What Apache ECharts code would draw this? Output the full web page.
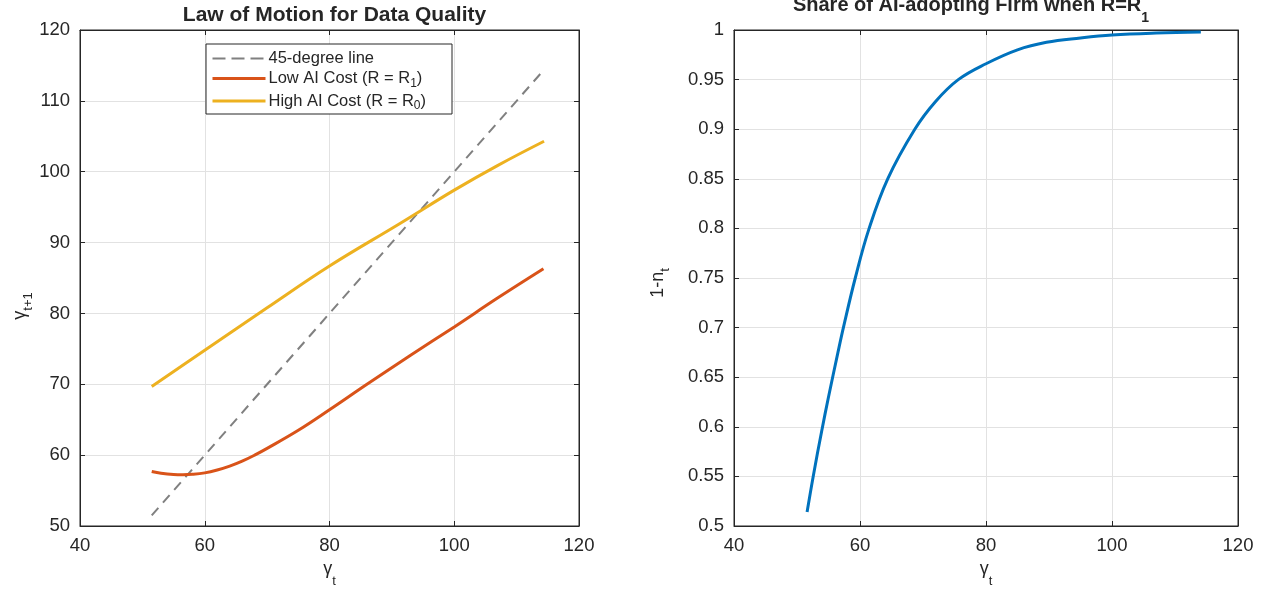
<!DOCTYPE html>
<html><head><meta charset="utf-8">
<script src="https://cdn.jsdelivr.net/npm/echarts@6/dist/echarts.min.js"></script>
<style>html,body{margin:0;padding:0;background:#fff}#c{width:1266px;height:592px}</style>
</head><body><div id="c"></div>
<script>
// ---- data ----
const diagX = [51.5, 114.5];
const diagY = [51.5, 114.5];
const lowX  = [51.5, 53, 55, 56.5, 58, 60, 62, 64, 66, 68, 70, 75, 80, 86, 93, 100, 107, 114.3];
const lowY  = [57.7, 57.45, 57.28, 57.25, 57.3, 57.5, 57.9, 58.45, 59.15, 60.0, 60.95, 63.5, 66.4, 70.0, 74.1, 78.1, 82.2, 86.3];
const highX = [51.5, 60, 70, 80, 91.3, 100, 107, 114.4];
const highY = [69.7, 74.8, 80.8, 86.7, 92.7, 97.4, 100.9, 104.3];
const shareX = [51.6, 52.6, 53.9, 55.0, 56.5, 57.4, 59.25, 61.4, 64.4, 68.7, 72, 75.6, 80, 85, 89.6, 95, 100, 107, 114.1];
const shareY = [0.514, 0.551, 0.595, 0.630, 0.675, 0.701, 0.750, 0.799, 0.85, 0.90, 0.928, 0.95, 0.966, 0.98, 0.9876, 0.992, 0.995, 0.997, 0.998];
const leftXTicks = {min: 40, max: 120, interval: 20};
const leftYTicks = {min: 50, max: 120, interval: 10};
const rightYTicks = {min: 0.5, max: 1, interval: 0.05};
const names = ['45-degree line', 'Low AI Cost (R = R1)', 'High AI Cost (R = R0)'];

const pairs = (xs, ys) => xs.map((x, i) => [x, ys[i]]);
const FONT = '"Liberation Sans", Arial, Helvetica, sans-serif';
const AX = '#262626';
const GRIDC = '#e2e2e2';
const C_DIAG = '#808080', C_LOW = '#D95319', C_HIGH = '#EDB120', C_SHARE = '#0072BD';

function axisBase(extra, subPad) {
  return Object.assign({
    type: 'value',
    axisLine: {show: true, onZero: false, lineStyle: {color: AX, width: 1}},
    axisTick: {show: true, inside: true, length: 5, lineStyle: {color: AX}},
    axisLabel: {show: true, color: AX, fontSize: 18.5, fontFamily: FONT, margin: 10},
    splitLine: {show: true, lineStyle: {color: GRIDC, width: 1}},
    nameLocation: 'middle',
    nameTextStyle: {color: AX, fontFamily: FONT, fontSize: 18,
      rich: {g: {fontSize: 18, fontFamily: FONT, color: AX},
             s: {fontSize: 13, fontFamily: FONT, color: AX, padding: [subPad, 0, 0, 0]}}}
  }, extra);
}
function mirror(base, pos) {
  return Object.assign({}, base, {
    position: pos, name: '',
    axisLabel: {show: false}, splitLine: {show: false}
  });
}

const lx = axisBase(Object.assign({gridIndex: 0, position: 'bottom', name: '{g|γ}{s|t}', nameGap: 21}, leftXTicks), 26);
const ly = axisBase(Object.assign({gridIndex: 0, position: 'left', name: '{g|γ}{s|t+1}', nameGap: 41, nameRotate: 90}, leftYTicks), 18);
ly.nameTextStyle.padding = [0, 56, 0, 0];
const rx = axisBase(Object.assign({gridIndex: 1, position: 'bottom', name: '{g|γ}{s|t}', nameGap: 21}, leftXTicks), 26);
const ry = axisBase(Object.assign({gridIndex: 1, position: 'left', name: '{g|1-n}{s|t}', nameGap: 62, nameRotate: 90}, rightYTicks), 14);
ry.nameTextStyle.padding = [0, 10, 0, 0];

const option = {
  animation: false,
  backgroundColor: '#ffffff',
  title: [
    {text: 'Law of Motion for Data Quality', left: 329.5, textAlign: 'center', top: 0,
     textStyle: {fontSize: 21, fontWeight: 'bold', color: AX, fontFamily: FONT}},
    {text: 'Share of AI-adopting Firm when R=R{s|1}', left: 966, textAlign: 'center', top: -20,
     textStyle: {fontSize: 20, fontWeight: 'bold', color: AX, fontFamily: FONT,
       rich: {s: {fontSize: 14, fontWeight: 'bold', color: AX, fontFamily: FONT, padding: [26, 0, 0, 0]}}}}
  ],
  grid: [
    {left: 80, right: 687, top: 30, bottom: 66, outerBoundsMode: 'none', containLabel: false,
     show: true, borderColor: AX, borderWidth: 1, backgroundColor: '#fff'},
    {left: 734, right: 28, top: 30, bottom: 66, outerBoundsMode: 'none', containLabel: false,
     show: true, borderColor: AX, borderWidth: 1, backgroundColor: '#fff'}
  ],
  xAxis: [lx, mirror(lx, 'top'), rx, mirror(rx, 'top')],
  yAxis: [ly, mirror(ly, 'right'), ry, mirror(ry, 'right')],
  legend: {
    data: [
      {name: names[0], lineStyle: {width: 2, color: C_DIAG, type: [13, 6]}},
      {name: names[1], lineStyle: {width: 3, color: C_LOW}},
      {name: names[2], lineStyle: {width: 3, color: C_HIGH}}
    ],
    orient: 'vertical', left: 206, top: 44,
    backgroundColor: '#fff', borderColor: AX, borderWidth: 1, borderRadius: 0,
    padding: [6, 26, 2, 5],
    itemWidth: 53, itemHeight: 14, itemGap: 3,
    itemStyle: {opacity: 0},
    formatter: n => n.replace(/R(\d)\)$/, 'R{s|$1})'),
    textStyle: {fontSize: 16.5, color: AX, fontFamily: FONT, padding: [0, 0, 0, -2],
      rich: {s: {fontSize: 12, color: AX, fontFamily: FONT, padding: [10, 0, 0, 0]}}}
  },
  series: [
    {name: names[0], type: 'line', xAxisIndex: 0, yAxisIndex: 0, data: pairs(diagX, diagY),
     showSymbol: false, symbol: 'none', lineStyle: {color: C_DIAG, width: 2, type: [10, 7]}, itemStyle: {color: C_DIAG}},
    {name: names[1], type: 'line', xAxisIndex: 0, yAxisIndex: 0, data: pairs(lowX, lowY),
     showSymbol: false, symbol: 'none', smooth: 0.4, lineStyle: {color: C_LOW, width: 3}, itemStyle: {color: C_LOW}},
    {name: names[2], type: 'line', xAxisIndex: 0, yAxisIndex: 0, data: pairs(highX, highY),
     showSymbol: false, symbol: 'none', smooth: 0.4, lineStyle: {color: C_HIGH, width: 3}, itemStyle: {color: C_HIGH}},
    {name: 'share', type: 'line', xAxisIndex: 2, yAxisIndex: 2, data: pairs(shareX, shareY),
     showSymbol: false, symbol: 'none', smooth: 0.4, lineStyle: {color: C_SHARE, width: 3}, itemStyle: {color: C_SHARE}}
  ]
};
const chart = echarts.init(document.getElementById('c'), null, {renderer: 'canvas'});
chart.setOption(option);
</script></body></html>
